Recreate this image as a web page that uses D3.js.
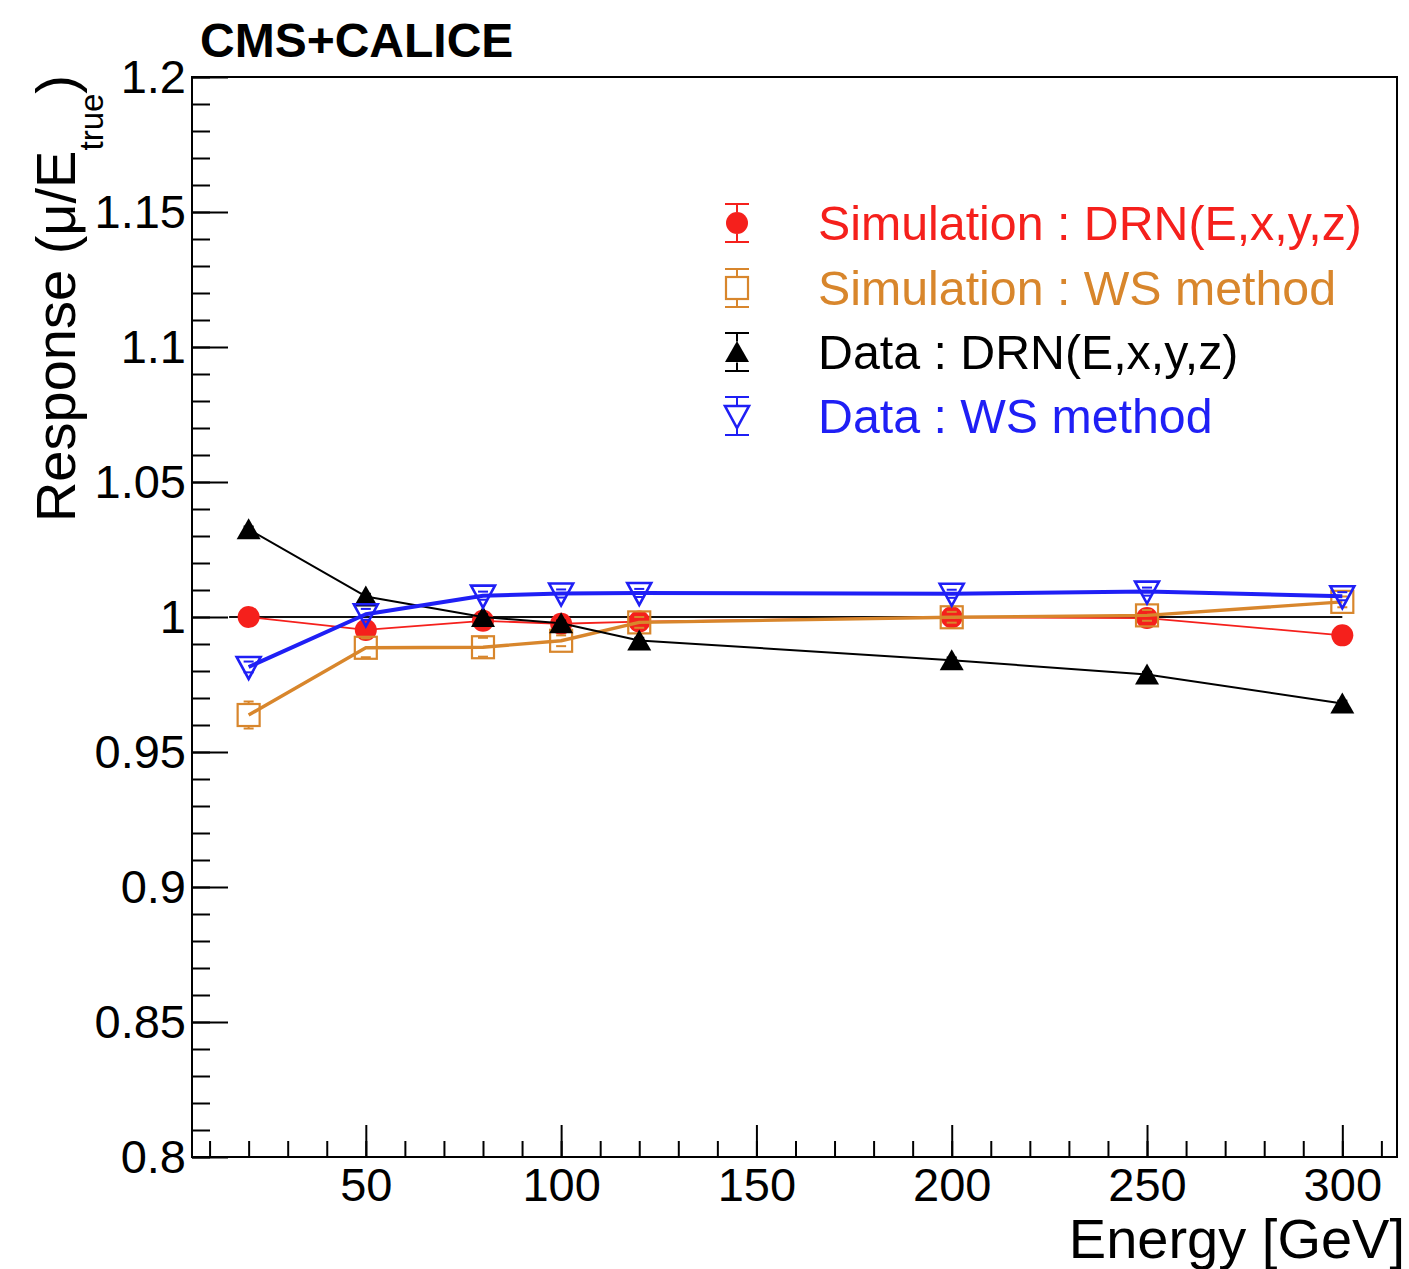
<!DOCTYPE html>
<html>
<head>
<meta charset="utf-8">
<script src="https://cdn.jsdelivr.net/npm/d3@7/dist/d3.min.js"></script>
<style>
  html, body { margin: 0; padding: 0; background: #fff; }
  svg { display: block; font-family: "Liberation Sans", Arial, Helvetica, sans-serif; }
</style>
</head>
<body>
<svg id="chart" width="1409" height="1269"></svg>
<script>
// Beam energies [GeV]
const energies = [20, 50, 80, 100, 120, 200, 250, 300];

// Response mu/E_true for each method
const simDRN  = [1.0000, 0.9952, 0.9986, 0.9975, 0.9983, 0.9999, 0.9996, 0.9932];
const simWS   = [0.9637, 0.9886, 0.9888, 0.9912, 0.9980, 0.9999, 1.0006, 1.0056];
const dataDRN = [1.0325, 1.0076, 1.0000, 0.9977, 0.9913, 0.9840, 0.9787, 0.9680];
const dataWS  = [0.9815, 1.0010, 1.0079, 1.0087, 1.0089, 1.0086, 1.0094, 1.0077];

// Statistical uncertainties
const simDRNErr  = [0.001, 0.001, 0.001, 0.001, 0.001, 0.001, 0.001, 0.001];
const simWSErr   = [0.005, 0.0035, 0.0035, 0.002, 0.002, 0.002, 0.002, 0.002];
const dataDRNErr = [0.001, 0.001, 0.001, 0.001, 0.001, 0.001, 0.001, 0.001];
const dataWSErr  = [0.002, 0.002, 0.0015, 0.0015, 0.0015, 0.0015, 0.0015, 0.0015];

// Axis ticks
const xMajorTicks = [50, 100, 150, 200, 250, 300];
const xMinorTicks = d3.range(10, 311, 10);
const yMajorTicks = [0.8, 0.85, 0.9, 0.95, 1.0, 1.05, 1.1, 1.15, 1.2];
const yMinorTicks = d3.range(80, 121, 1).map(v => v / 100);

// Legend labels
const seriesNames = [
  "Simulation : DRN(E,x,y,z)",
  "Simulation : WS method",
  "Data : DRN(E,x,y,z)",
  "Data : WS method"
];

const RED = "#f5201c", ORANGE = "#d8862c", BLACK = "#000000", BLUE = "#1f1ff5";

const series = [
  { name: seriesNames[0], values: simDRN,  errs: simDRNErr,  color: RED,    marker: "circle",  lineWidth: 1.8 },
  { name: seriesNames[1], values: simWS,   errs: simWSErr,   color: ORANGE, marker: "square",  lineWidth: 3.4 },
  { name: seriesNames[2], values: dataDRN, errs: dataDRNErr, color: BLACK,  marker: "triUp",   lineWidth: 2 },
  { name: seriesNames[3], values: dataWS,  errs: dataWSErr,  color: BLUE,   marker: "triDown", lineWidth: 4 }
];

const svg = d3.select("#chart");
const plot = { left: 192, right: 1397, top: 77, bottom: 1157 };

const x = d3.scaleLinear().domain([5.5, 314]).range([plot.left, plot.right]);
const y = d3.scaleLinear().domain([0.8, 1.2]).range([plot.bottom, plot.top]);

// Marker shapes and their half-heights (for error bar gaps)
const markerHalf = { circle: 11, square: 11, triUp: 10.5, triDown: 11 };

function drawMarker(g, kind, cx, cy, color) {
  if (kind === "circle") {
    g.append("circle").attr("cx", cx).attr("cy", cy).attr("r", 11).attr("fill", color);
  } else if (kind === "square") {
    g.append("rect").attr("x", cx - 11).attr("y", cy - 11).attr("width", 22).attr("height", 22)
      .attr("fill", "none").attr("stroke", color).attr("stroke-width", 2.2);
  } else if (kind === "triUp") {
    const p = d3.path();
    p.moveTo(cx, cy - 11); p.lineTo(cx + 12, cy + 10); p.lineTo(cx - 12, cy + 10); p.closePath();
    g.append("path").attr("d", p.toString()).attr("fill", color);
  } else if (kind === "triDown") {
    const p = d3.path();
    p.moveTo(cx - 12, cy - 10); p.lineTo(cx + 12, cy - 10); p.lineTo(cx, cy + 12); p.closePath();
    g.append("path").attr("d", p.toString()).attr("fill", "none").attr("stroke", color)
      .attr("stroke-width", 2.6).attr("stroke-linejoin", "miter");
  }
}

function drawErrorBar(g, kind, cx, yTop, yBot, cy, color, capHalf) {
  const half = markerHalf[kind];
  const seg = (y1, y2) => g.append("line").attr("x1", cx).attr("x2", cx).attr("y1", y1).attr("y2", y2)
    .attr("stroke", color).attr("stroke-width", 2);
  if (cy - yTop > half) seg(yTop, cy - half);
  if (yBot - cy > half) seg(cy + half, yBot);
  [yTop, yBot].forEach(yy => g.append("line").attr("x1", cx - capHalf).attr("x2", cx + capHalf)
    .attr("y1", yy).attr("y2", yy).attr("stroke", color).attr("stroke-width", 2));
}

// Axes
const fontSize = 47;
const xAxisMinor = d3.axisBottom(x).tickValues(xMinorTicks).tickSize(-16).tickFormat("");
const xAxisMajor = d3.axisBottom(x).tickValues(xMajorTicks).tickSize(-32).tickPadding(11).tickFormat(d3.format("d"));
const yAxisMinor = d3.axisLeft(y).tickValues(yMinorTicks).tickSize(-18).tickFormat("");
const yAxisMajor = d3.axisLeft(y).tickValues(yMajorTicks).tickSize(-36).tickPadding(6)
  .tickFormat(d => String(+d.toFixed(2)));

function styleAxis(g) {
  g.select(".domain").remove();
  g.selectAll(".tick line").attr("stroke", "#000").attr("stroke-width", 2);
  g.selectAll(".tick text").attr("fill", "#000").style("font-size", fontSize + "px")
    .style("font-family", "'Liberation Sans', Arial, Helvetica, sans-serif");
}

svg.append("g").attr("transform", `translate(0,${plot.bottom})`).call(xAxisMinor).call(styleAxis);
svg.append("g").attr("transform", `translate(0,${plot.bottom})`).call(xAxisMajor).call(styleAxis);
svg.append("g").attr("transform", `translate(${plot.left},0)`).call(yAxisMinor).call(styleAxis);
svg.append("g").attr("transform", `translate(${plot.left},0)`).call(yAxisMajor).call(styleAxis);

// Frame
svg.append("rect").attr("x", plot.left).attr("y", plot.top)
  .attr("width", plot.right - plot.left).attr("height", plot.bottom - plot.top)
  .attr("fill", "none").attr("stroke", "#000").attr("stroke-width", 2);

// Reference line at unit response
svg.append("line").attr("x1", x(15)).attr("x2", x(300)).attr("y1", y(1)).attr("y2", y(1))
  .attr("stroke", "#111").attr("stroke-width", 2);

// Series: connecting lines, error bars, markers
const line = d3.line().x((d, i) => x(energies[i])).y(d => y(d));
series.forEach(s => {
  const g = svg.append("g");
  g.append("path").attr("d", line(s.values)).attr("fill", "none")
    .attr("stroke", s.color).attr("stroke-width", s.lineWidth).attr("stroke-linejoin", "round");
  s.values.forEach((v, i) => {
    const cx = x(energies[i]), cy = y(v);
    drawErrorBar(g, s.marker, cx, y(v + s.errs[i]), y(v - s.errs[i]), cy, s.color, 5);
  });
  s.values.forEach((v, i) => drawMarker(g, s.marker, x(energies[i]), y(v), s.color));
});

// Legend
const legend = svg.append("g");
const legendRows = [223, 288, 352, 416];
series.forEach((s, i) => {
  const cy = legendRows[i], cx = 737;
  drawErrorBar(legend, s.marker, cx, cy - 19, cy + 19, cy, s.color, 12);
  drawMarker(legend, s.marker, cx, cy, s.color);
  legend.append("text").attr("x", 818).attr("y", cy + 17)
    .attr("fill", s.color).style("font-size", "48.3px").text(s.name);
});

// Title
svg.append("text").attr("x", 200).attr("y", 57).style("font-size", "48px").style("font-weight", "bold")
  .attr("fill", "#000").text("CMS+CALICE");

// X axis title
svg.append("text").attr("x", 1405).attr("y", 1258).attr("text-anchor", "end")
  .style("font-size", "56px").attr("fill", "#000").text("Energy [GeV]");

// Y axis title with subscript
const yt = svg.append("text").attr("transform", "translate(75,75) rotate(-90)")
  .attr("text-anchor", "end").style("font-size", "56px").attr("fill", "#000");
yt.append("tspan").text("Response (\u03bc/E");
yt.append("tspan").attr("dy", 28).style("font-size", "33px").text("true");
yt.append("tspan").attr("dy", -28).text(")");
</script>
</body>
</html>
